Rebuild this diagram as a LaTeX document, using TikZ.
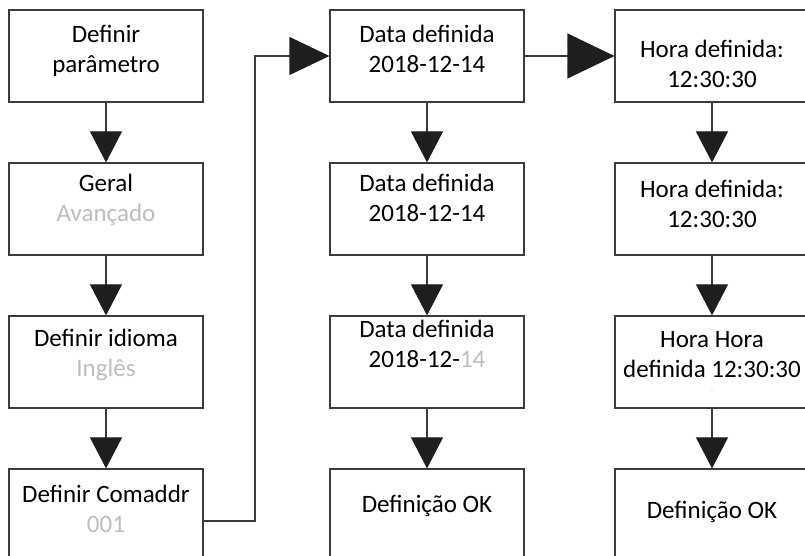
\documentclass[tikz,border=0pt]{standalone}
\usepackage{fontspec}
\setmainfont{Carlito}
\usetikzlibrary{positioning, arrows.meta}
\definecolor{cinza}{RGB}{190,190,190}
\definecolor{linha}{RGB}{60,60,60}
\definecolor{ponta}{RGB}{30,30,30}
% linha vazia no fim (texto sobe) ou no inicio (texto desce)
\newcommand{\sobe}[1]{\\[#1]\mbox{}}
\newcommand{\desce}[1]{\mbox{}\\[#1]}

\begin{document}
\begin{tikzpicture}[x=1pt, y=1pt, node distance=153pt, on grid,
    caixa/.style={draw=linha, line width=1.2pt, minimum width=194pt, minimum height=92pt,
        align=center, font=\fontsize{25}{30}\selectfont},
    seta/.style={draw=linha, line width=1.2pt, -{Triangle[width=32pt, length=31pt, color=ponta]}}]
    \useasboundingbox (0,0) rectangle (805,556);

    % coluna 1
    \node[caixa] (param) at (106,500) {Definir\\parâmetro\sobe{-15pt}};
    \node[caixa, below=of param] (geral) {Geral\\\textcolor{cinza}{Avançado}\sobe{-7pt}};
    \node[caixa, below=of geral] (idioma) {Definir idioma\\\textcolor{cinza}{Inglês}\sobe{-11pt}};
    \node[caixa, below=of idioma] (comaddr) {Definir Comaddr\\\textcolor{cinza}{001}\sobe{-18pt}};

    % coluna 2
    \node[caixa, right=321pt of param] (dataA) {Data definida\\2018-12-14\sobe{-15pt}};
    \node[caixa, below=of dataA] (dataB) {Data definida\\2018-12-14\sobe{-8pt}};
    \node[caixa, below=of dataB] (dataC) {Data definida\\2018-12-\textcolor{cinza}{14}\sobe{7pt}};
    \node[caixa, below=of dataC] (dataOK) {Definição OK\sobe{-7pt}};

    % coluna 3
    \node[caixa, right=285pt of dataA] (horaA) {\desce{3pt}Hora definida:\\12:30:30};
    \node[caixa, below=of horaA] (horaB) {Hora definida:\\12:30:30\sobe{-20pt}};
    \node[caixa, below=of horaB] (horaC) {Hora Hora\\definida 12:30:30\\[-14pt]{\color{cinza}\fontsize{8}{8}\selectfont -}};
    \node[caixa, below=of horaC] (horaOK) {Definição OK\sobe{-19pt}};

    \coordinate (volta) at (255,40);

    \draw[seta] (param) -- (geral);
    \draw[seta] (geral) -- (idioma);
    \draw[seta] (idioma) -- (comaddr);
    \draw[seta] (dataA) -- (dataB);
    \draw[seta] (dataB) -- (dataC);
    \draw[seta] (dataC) -- (dataOK);
    \draw[seta] (horaA) -- (horaB);
    \draw[seta] (horaB) -- (horaC);
    \draw[seta] (horaC) -- (horaOK);
    \draw[seta, -{Triangle[width=38pt, length=40pt, color=ponta]}]
        ([yshift=-6pt]comaddr.east) -- ([yshift=-6pt]comaddr.east -| volta) |- (dataA.west);
    \draw[seta, -{Triangle[width=45pt, length=47pt, color=ponta]}] (dataA) -- (horaA);
\end{tikzpicture}
\end{document}
